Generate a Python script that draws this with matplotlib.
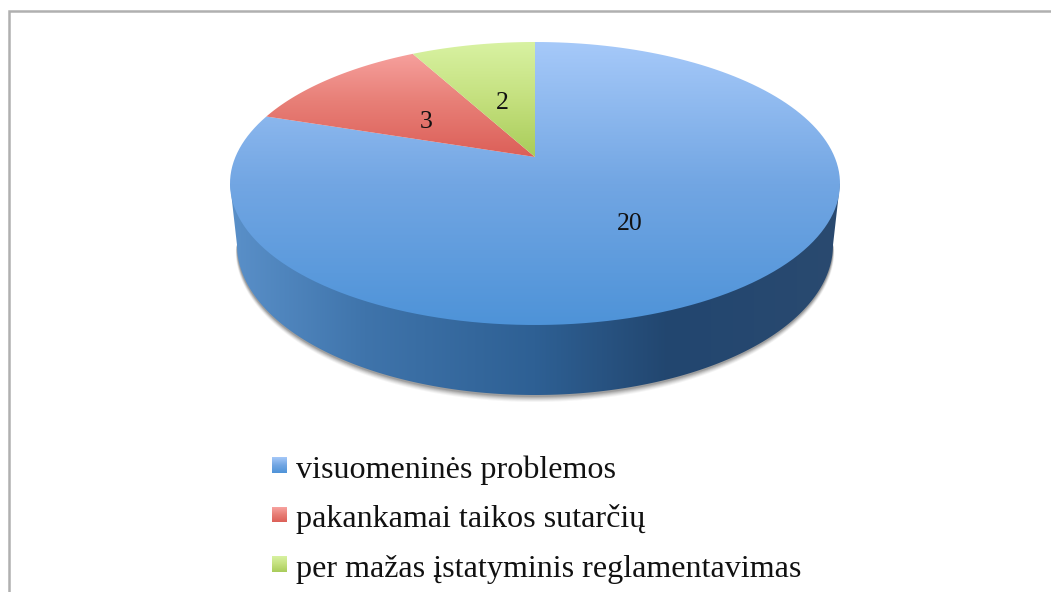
"""3D-look pie of 25 answers, drawn by hand since matplotlib has no such pie."""

import numpy as np
import matplotlib
matplotlib.use("Agg")
import matplotlib.pyplot as plt
from matplotlib.colors import LinearSegmentedColormap
from matplotlib.patches import Polygon

categories = ["visuomeninės problemos", "pakankamai taikos sutarčių",
              "per mažas įstatyminis reglamentavimas"]
values = [20, 3, 2]
top_colors = [["#a6c9f9", "#72a6e3", "#4e93d8"],
              ["#faa8a6", "#e88078", "#dc5f58"],
              ["#d8f2a2", "#c4e07e", "#a9cc5a"]]
side_positions = [0.0, 0.22, 0.5, 0.72, 1.0]
side_colors = ["#5a90c9", "#3f74ab", "#2e6094", "#22466f", "#2a4a70"]
label_frac_x = [0.46, 0.53, 0.52]
label_frac_y = [0.51, 0.44, 0.48]

W, H = 1051, 592
CX, CY, RX, RY = 535.0, 183.5, 305.0, 141.5   # top face ellipse
AX, AY = 535.0, 157.0                         # apex of the wedges
BCY, BRX, BRY = 245.0, 298.0, 150.0           # bottom rim


def ray(theta):
    """Where a ray from the apex, clockwise from 12 o'clock, hits the rim."""
    dx, dy = np.sin(theta) * RX, -np.cos(theta) * RY
    a = (dx / RX) ** 2 + (dy / RY) ** 2
    b = 2 * ((AY - CY) * dy / RY ** 2)
    c = ((AY - CY) / RY) ** 2 - 1
    t = (-b + np.sqrt(b ** 2 - 4 * a * c)) / (2 * a)
    return AX + t * dx, AY + t * dy


def wedge(start, end):
    pts = [(AX, AY)]
    for th in np.linspace(start, end, 160):
        pts.append(ray(th))
    return pts


def fill(ax, patch, colors, extent, horizontal=False, positions=None):
    stops = list(zip(positions, colors)) if positions else colors
    cmap = LinearSegmentedColormap.from_list("g", stops)
    grad = np.linspace(0, 1, 256)
    grad = grad.reshape(1, -1) if horizontal else grad.reshape(-1, 1)
    im = ax.imshow(grad, cmap=cmap, extent=extent, aspect="auto", zorder=patch.get_zorder())
    ax.add_patch(patch)
    im.set_clip_path(patch)
    patch.set_facecolor("none")
    patch.set_edgecolor("none")


plt.rcParams["font.family"] = ["Liberation Serif", "DejaVu Serif"]
fig = plt.figure(figsize=(W / 100, H / 100), dpi=100)
ax = fig.add_axes([0, 0, 1, 1])

# frame of the original slide
ax.plot([9, 9, W], [H, 11, 11], color="#b0b0b0", lw=1.8, solid_joinstyle="miter", zorder=1)

# soft shadow under the body, tapers to nothing at the rim ends
t = np.linspace(np.pi, 0, 240)
taper = np.sin(t) ** 0.5
for grow, alpha in zip([7, 6, 5, 4, 3, 2], [0.05, 0.07, 0.09, 0.11, 0.14, 0.18]):
    ax.add_patch(Polygon(np.column_stack([CX + (BRX + grow * taper) * np.cos(t),
                                          BCY + (BRY + grow * taper) * np.sin(t)]),
                         closed=True, fc="#404040", ec="none", alpha=alpha, zorder=2))

# side of the cylinder
side = [(CX - RX, CY)] + list(zip(CX + BRX * np.cos(t), BCY + BRY * np.sin(t))) + [(CX + RX, CY)]
fill(ax, Polygon(side, closed=True, zorder=3), side_colors,
     (CX - RX, CX + RX, H, 0), horizontal=True, positions=side_positions)

# top face, clockwise from 12 o'clock
total = sum(values)
start = 0.0
mids = []
for val, cols in zip(values, top_colors):
    end = start + 2 * np.pi * val / total
    bottom = CY + RY if val == max(values) else AY
    fill(ax, Polygon(wedge(start, end), closed=True, zorder=4), cols,
         (CX - RX, CX + RX, bottom, CY - RY))
    mids.append((start + end) / 2)
    start = end

for val, mid, fx, fy in zip(values, mids, label_frac_x, label_frac_y):
    x, y = ray(mid)
    ax.text(AX + (x - AX) * fx, AY + (y - AY) * fy, str(val), fontsize=18.5,
            ha="center", va="center", color="#111111", zorder=6)

# legend
for i, (name, cols) in enumerate(zip(categories, top_colors)):
    top = 457 + i * 49.5
    fill(ax, Polygon([(272, top), (287, top), (287, top + 16), (272, top + 16)],
                     closed=True, zorder=5), cols, (272, 287, top + 16, top))
    ax.text(296, top + 21, name, fontsize=23.1, ha="left", va="baseline",
            color="#111111", zorder=6)

ax.set_xlim(0, W)
ax.set_ylim(H, 0)
ax.axis("off")
fig.savefig("out.png", dpi=100, facecolor="white")
plt.close(fig)
